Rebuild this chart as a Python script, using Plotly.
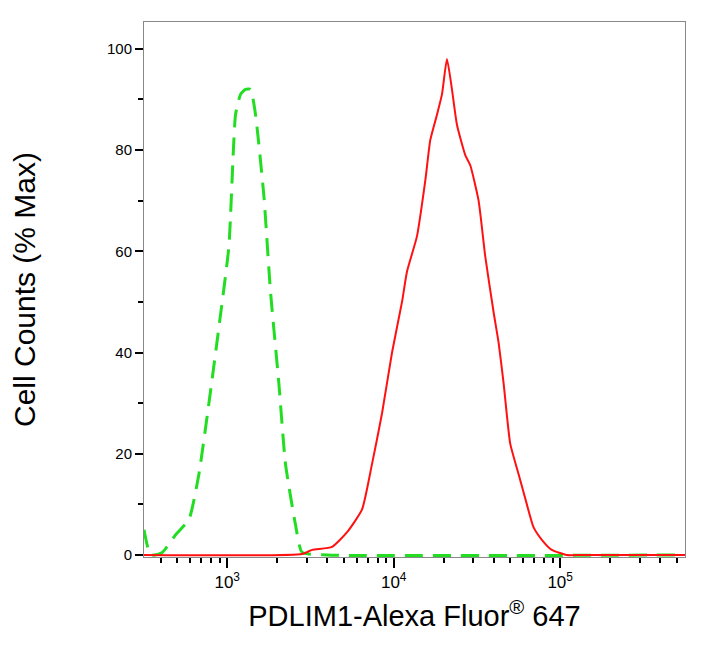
import numpy as np
import plotly.graph_objects as go

# pixel-read data converted to log10(x) and % max
red_logx = [2.5, 3.45, 3.51, 3.63, 3.72, 3.81, 3.87, 3.93, 3.99, 4.05, 4.08, 4.14, 4.19, 4.22, 4.26, 4.29, 4.32, 4.35, 4.38, 4.43, 4.46, 4.51, 4.55, 4.60, 4.63, 4.66, 4.70, 4.75, 4.80, 4.84, 4.89, 4.95, 5.04, 5.13, 5.75]
red_y = [0, 0.2, 1, 1.6, 4.5, 9, 18, 28, 40, 50, 56, 63, 74, 82, 87, 91, 98, 92, 85, 79, 77, 70, 59, 48, 42, 34, 22, 16, 10, 5.5, 3, 1, 0, 0, 0]
green_logx = [2.5, 2.54, 2.61, 2.69, 2.77, 2.83, 2.89, 2.95, 3.01, 3.05, 3.08, 3.11, 3.14, 3.17, 3.22, 3.26, 3.31, 3.35, 3.41, 3.45, 3.6, 5.75]
green_y = [5, 0, 0.5, 4, 7, 16, 30, 45, 61, 87, 91, 92, 92, 87, 71, 52, 34, 18, 6, 0.5, 0, 0]

fig = go.Figure()
fig.add_trace(go.Scatter(x=[10**v for v in green_logx], y=green_y, mode="lines",
                         line=dict(color="#22dd22", width=3, dash="18px,10px", shape="spline", smoothing=0.5),
                         showlegend=False))
fig.add_trace(go.Scatter(x=[10**v for v in red_logx], y=red_y, mode="lines",
                         line=dict(color="#ff1111", width=2, shape="spline", smoothing=0.5),
                         showlegend=False))

minor = [k * 10**d for d in (2, 3, 4, 5) for k in range(2, 10)]
fig.update_layout(
    width=714, height=654, plot_bgcolor="white", paper_bgcolor="white",
    margin=dict(l=136, r=37, t=14, b=105, autoexpand=False),
    font=dict(family="Liberation Sans, Arial", color="black"),
    xaxis=dict(type="log", range=[2.5, 5.75], showgrid=False, zeroline=False,
               showline=True, linecolor="#888", mirror=True, ticks="outside", ticklen=10, tickwidth=2,
               tickcolor="black", tickvals=[1e3, 1e4, 1e5],
               ticktext=["10<sup>3</sup>", "10<sup>4</sup>", "10<sup>5</sup>"], tickfont=dict(size=17),
               minor=dict(tickvals=minor, ticks="outside", ticklen=5, tickwidth=2, tickcolor="black"),
               title=dict(text="PDLIM1-Alexa Fluor<sup>®</sup> 647", font=dict(size=29), standoff=14)),
    yaxis=dict(range=[-0.4, 105.3], showgrid=False, zeroline=False,
               showline=True, linecolor="#888", mirror=True, ticks="outside", ticklen=8, tickwidth=2,
               tickcolor="black", tickvals=[0, 20, 40, 60, 80, 100], tickfont=dict(size=15),
               minor=dict(dtick=10, ticks="outside", ticklen=5, tickwidth=2, tickcolor="black"),
               title=dict(text="Cell Counts (% Max)", font=dict(size=30), standoff=66)),
)
fig.write_html("out.html")
